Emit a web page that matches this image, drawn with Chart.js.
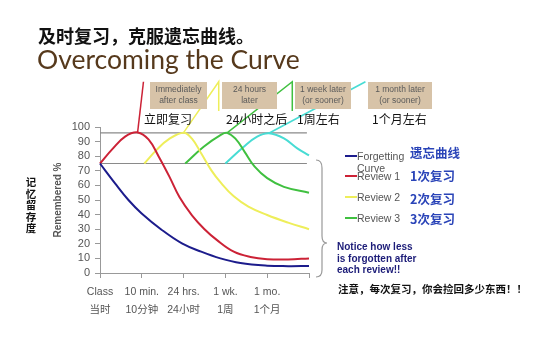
<!DOCTYPE html>
<html>
<head>
<meta charset="utf-8">
<script src="https://cdn.jsdelivr.net/npm/chart.js@4/dist/chart.umd.min.js"></script>
<style>
  body { margin: 0; background: #fff; }
  #page { position: relative; width: 536px; height: 360px; overflow: hidden; font-family: "Liberation Sans", "Noto Sans CJK SC", sans-serif; }
  #page canvas { position: absolute; left: 0; top: 0; }
  .abs { position: absolute; white-space: nowrap; }
  .box { position: absolute; background: #d7c3a8; color: #5a5a5a; font-size: 8.5px; line-height: 11px; text-align: center; height: 27px; padding-top: 2px; box-sizing: border-box; }
  .zh12 { font-family: "Noto Sans CJK SC"; font-size: 12px; line-height: 14px; color: #111; }
  .leg { position: absolute; font-size: 10.5px; line-height: 12px; color: #555; }
  .sw { position: absolute; width: 12px; height: 2px; }
  .legzh { position: absolute; font-family: "Noto Sans CJK SC"; font-weight: bold; font-size: 12.5px; line-height: 14px; color: #2a44b8; }
  .vzh { position: absolute; left: 25px; width: 12px; text-align: center; font: bold 10.5px/12px "Noto Sans CJK SC"; color: #111; }
</style>
</head>
<body>
<div id="page">
  <canvas id="curveChart" width="536" height="360"></canvas>

  <div class="abs" style="left:38px;top:25px;font:bold 18px/20px 'Noto Sans CJK SC';color:#111">及时复习，克服遗忘曲线。</div>
  <div class="abs" style="left:37px;top:45px;font:26.5px/28px Lato;color:#56391c">Overcoming the Curve</div>

  <div id="boxes"></div>

  <div id="yzh"></div>

  <div id="legend"></div>

  <svg class="abs" style="left:0;top:0" width="536" height="360">
    <path d="M316,160 Q322,160 322,168 L322,236 Q322,243 327,243 Q322,243 322,250 L322,270 Q322,277 316,277" fill="none" stroke="#999" stroke-width="1.2"/>
  </svg>

  <div class="abs" style="left:337px;top:241px;font:bold 10px/11.5px 'Liberation Sans';color:#1c1c78">Notice how less<br>is forgotten after<br>each review!!</div>
  <div class="abs" style="left:338px;top:282px;font:bold 10.5px/14px 'Noto Sans CJK SC';color:#111">注意，每次复习，你会捡回多少东西！！</div>
</div>

<script>
// x axis: 0 = class, 1 = 10 min, 2 = 24 hrs, 3 = 1 wk, 4 = 1 mo
const xLabels = ['Class', '10 min.', '24 hrs.', '1 wk.', '1 mo.', ''];
const xLabelsZh = ['当时', '10分钟', '24小时', '1周', '1个月', ''];
const yTitleZh = '记忆留存度';

const seriesNames = ['Forgetting Curve', 'Review 1', 'Review 2', 'Review 3'];
const seriesNamesZh = ['遗忘曲线', '1次复习', '2次复习', '3次复习'];
const seriesColors = ['#1c1c8c', '#cc2236', '#eeee5a', '#40c040', '#48dcd4'];

// curves (x position, % remembered)
const forgettingX = [0, 0.36, 0.68, 0.99, 1.48, 1.96, 2.42, 2.88, 3.36, 4.0, 4.5, 5.0];
const forgettingY = [75, 61.4, 50, 41, 29.5, 20.3, 14.6, 10, 6.8, 5, 4.7, 4.8];

const review1X = [0, 0.3, 0.6, 0.9, 1.16, 1.4, 1.66, 1.9, 2.2, 2.5, 2.8, 3.2, 3.6, 4.0, 4.5, 5.0];
const review1Y = [75, 85, 93.4, 96.3, 91.5, 80, 66, 52, 39.5, 30, 22.5, 14.6, 11, 9.5, 9.3, 10];

const review2X = [1.06, 1.36, 1.64, 2.0, 2.2, 2.42, 2.66, 2.9, 3.2, 3.55, 4.0, 4.5, 5.0];
const review2Y = [75, 84.5, 91.5, 96.1, 92, 82, 70.5, 61.5, 52.5, 45.5, 39.7, 34.5, 30];

const review3X = [2.04, 2.48, 2.9, 3.04, 3.24, 3.46, 3.7, 4.0, 4.4, 5.0];
const review3Y = [75, 86.5, 94.8, 96, 92, 83, 72.8, 65, 59, 55];

const review4X = [3.0, 3.44, 3.76, 4.04, 4.4, 4.72, 5.0];
const review4Y = [75, 86.5, 93.4, 95.7, 92.2, 85.4, 80.5];

// pointer lines from each peak up to its box
const peakX = [0.9, 2.0, 3.04, 4.04];
const peakY = [96.3, 96.1, 96, 95.7];
const pointerX = [1.04, 2.84, 4.6, 6.35];
const pointerTop = 131;
const pointerBottom = 111;

// grey guide lines
const guideLevels = [96, 75];
const guideEnd = 4.95;

const boxTexts = ['Immediately<br>after class', '24 hours<br>later', '1 week later<br>(or sooner)', '1 month later<br>(or sooner)'];
const boxTextsZh = ['立即复习', '24小时之后', '1周左右', '1个月左右'];

// build boxes and legend
const boxLeft = [150, 222, 295, 368];
const boxWidth = [57, 55, 56, 64];
const zhLeft = [144, 226, 297, 372];
let html = '';
boxTexts.forEach((t, i) => {
    html += `<div class="box" style="left:${boxLeft[i]}px;top:82px;width:${boxWidth[i]}px">${t}</div>`;
    html += `<div class="abs zh12" style="left:${zhLeft[i]}px;top:112px">${boxTextsZh[i]}</div>`;
});
document.getElementById('boxes').innerHTML = html;

// vertical chinese axis title, one character per row
let vhtml = '';
Array.from(yTitleZh).forEach((ch, i) => {
    vhtml += `<div class="vzh" style="top:${176 + i * 11.6}px">${ch}</div>`;
});
document.getElementById('yzh').innerHTML = vhtml;

const legY = [156, 176, 197, 218];
const legZhY = [153, 176, 199, 219];
let lhtml = '';
seriesNames.forEach((name, i) => {
    lhtml += `<div class="sw" style="left:345px;top:${legY[i] - 1}px;background:${seriesColors[i]}"></div>`;
    if (i === 0) {
        lhtml += `<div class="leg" style="left:357px;top:${legY[i] - 6}px">Forgetting</div>`;
        lhtml += `<div class="leg" style="left:357px;top:${legY[i] + 6}px">Curve</div>`;
    } else {
        lhtml += `<div class="leg" style="left:357px;top:${legY[i] - 6}px">${name}</div>`;
    }
    lhtml += `<div class="legzh" style="left:410px;top:${legZhY[i] - 7}px">${seriesNamesZh[i]}</div>`;
});
document.getElementById('legend').innerHTML = lhtml;

const toPts = (xs, ys) => xs.map((x, i) => ({x: x, y: ys[i]}));

function curve(xs, ys, color) {
    return {
        data: toPts(xs, ys),
        showLine: true,
        borderColor: color,
        borderWidth: 2,
        pointRadius: 0,
        tension: 0.4,
        clip: false
    };
}

function pointer(i) {
    const pts = [{x: peakX[i], y: peakY[i]}, {x: pointerX[i], y: pointerTop}];
    if (i > 0) pts.push({x: pointerX[i], y: pointerBottom});
    return {
        data: pts,
        showLine: true,
        borderColor: seriesColors[i + 1],
        borderWidth: 1.5,
        pointRadius: 0,
        tension: 0,
        clip: false
    };
}

const datasets = [
    curve(forgettingX, forgettingY, seriesColors[0]),
    curve(review1X, review1Y, seriesColors[1]),
    curve(review2X, review2Y, seriesColors[2]),
    curve(review3X, review3Y, seriesColors[3]),
    curve(review4X, review4Y, seriesColors[4]),
    pointer(0), pointer(1), pointer(2), pointer(3)
];
guideLevels.forEach(level => {
    datasets.push({
        data: [{x: 0, y: level}, {x: guideEnd, y: level}],
        showLine: true,
        borderColor: '#8a8a8a',
        borderWidth: 1.2,
        pointRadius: 0,
        clip: false
    });
});

const ctx = document.getElementById('curveChart').getContext('2d');
new Chart(ctx, {
    type: 'scatter',
    data: { datasets: datasets },
    options: {
        responsive: false,
        animation: false,
        layout: { padding: { left: 40, top: 127, right: 227, bottom: 42 } },
        plugins: { legend: { display: false }, tooltip: { enabled: false } },
        scales: {
            x: {
                type: 'linear',
                min: 0,
                max: 5,
                afterFit: (scale) => { scale.height = 45; },
                ticks: {
                    stepSize: 1,
                    autoSkip: false,
                    maxRotation: 0,
                    padding: 5,
                    color: '#555',
                    font: { family: "'Liberation Sans', 'Noto Sans CJK SC'", size: 10.5, lineHeight: 1.7 },
                    callback: (v) => [xLabels[v], xLabelsZh[v]]
                },
                grid: { drawOnChartArea: false, color: '#999', tickLength: 5 },
                border: { color: '#999' }
            },
            y: {
                min: 0,
                max: 100,
                afterFit: (scale) => { scale.width = 60; },
                ticks: {
                    stepSize: 10,
                    autoSkip: false,
                    padding: 5,
                    color: '#555',
                    font: { family: "'Liberation Sans'", size: 11 }
                },
                grid: { drawOnChartArea: false, color: '#999', tickLength: 5 },
                border: { color: '#999' },
                title: {
                    display: true,
                    text: 'Remembered %',
                    color: '#555',
                    font: { family: "'Liberation Sans'", size: 10, weight: 'bold' },
                    padding: { top: 12, bottom: 0 }
                }
            }
        }
    }
});
</script>
</body>
</html>
